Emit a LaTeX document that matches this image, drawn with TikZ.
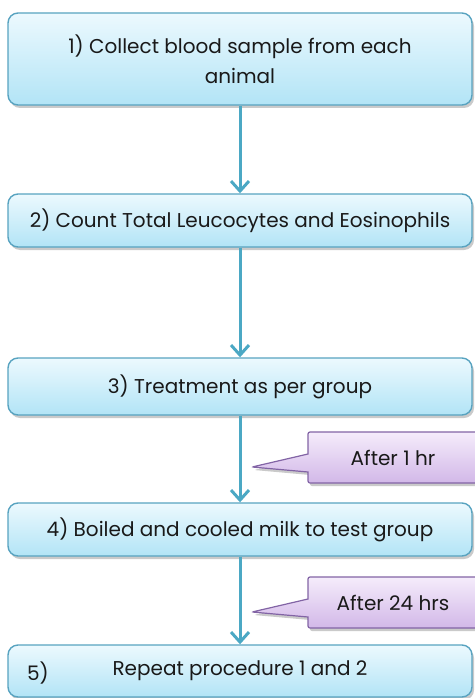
\documentclass[tikz,border=0pt]{standalone}
\usepackage{fontspec}
\setmainfont{Poppins}
\usetikzlibrary{arrows,arrows.meta,shadows,shapes.callouts,positioning,calc}
\definecolor{stageline}{RGB}{88,163,192}
\definecolor{stagetop}{RGB}{236,249,254}
\definecolor{stagebot}{RGB}{178,228,246}
\definecolor{flowline}{RGB}{75,168,196}
\definecolor{notetop}{RGB}{245,236,251}
\definecolor{notebot}{RGB}{210,184,232}
\definecolor{noteline}{RGB}{130,100,165}
\definecolor{ink}{RGB}{25,25,25}

\begin{document}
\begin{tikzpicture}[x=1pt,y=-1pt,
  stage box/.style={rectangle,rounded corners=10pt,draw=stageline,line width=1.4pt,
    top color=stagetop,bottom color=stagebot,minimum width=464pt,
    drop shadow={shadow xshift=2pt,shadow yshift=-3pt,opacity=0.35,fill=black!60},
    font=\fontsize{20}{30}\selectfont,text=ink,align=center,inner sep=0pt},
  note box/.style={rectangle callout,rounded corners=2pt,draw=noteline,line width=1.2pt,
    top color=notetop,bottom color=notebot,minimum width=170pt,minimum height=51pt,
    callout pointer width=18pt,
    drop shadow={shadow xshift=2pt,shadow yshift=-3pt,opacity=0.35,fill=black!60},
    font=\fontsize{20}{24}\selectfont,text=ink,inner sep=0pt},
  flow/.style={draw=flowline,line width=3pt,-{Straight Barb[length=10pt,width=18pt,line width=3pt]}}]
          \useasboundingbox (0,0) rectangle (474,698);
          % the five steps
          \node[stage box,minimum height=92pt] at (240,59) (s1) {1) Collect blood sample from each\\animal};
          \node[stage box,minimum height=53pt] at (240,220.5) (s2) {2) Count Total Leucocytes and Eosinophils};
          \node[stage box,minimum height=57pt] at (240,386.5) (s3) {3) Treatment as per group};
          \node[stage box,minimum height=53pt] at (240,529.5) (s4) {4) Boiled and cooled milk to test group};
          \node[stage box,minimum height=52pt] at (240,671) (s5) {Repeat procedure 1 and 2};
          \node[font=\fontsize{20}{24}\selectfont,text=ink] at (38,673) (s5num) {5)};
          % arrows
          \draw[flow] (s1) -- (s2);
          \draw[flow] (s2) -- (s3);
          \draw[flow] (s3) -- (s4);
          \draw[flow] (s4) -- (s5);
          % time notes
          \coordinate (p1) at (252,467);
          \coordinate (p2) at (252,612);
          \node[note box,callout absolute pointer={(p1)}] at (393,457.5) (n1) {After 1 hr};
          \node[note box,callout absolute pointer={(p2)}] at (393,602.5) (n2) {After 24 hrs};
        \end{tikzpicture}
\end{document}
